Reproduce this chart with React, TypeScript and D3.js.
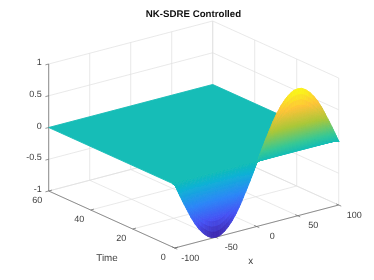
import React from "react";
import * as d3 from "d3";

const width = 374;
const height = 280;

// tick values
const xTicks = [-100, -50, 0, 50, 100];
const timeTicks = [0, 20, 40, 60];
const zTicks = [-1, -0.5, 0, 0.5, 1];

// surface: shape along x, and how it dies out with time
const xGrid = [
  -100, -95, -90, -85, -80, -75, -70, -65, -60, -55, -50, -45, -40, -35, -30, -25, -20, -15, -10, -5, 0,
  5, 10, 15, 20, 25, 30, 35, 40, 45, 50, 55, 60, 65, 70, 75, 80, 85, 90, 95, 100,
];
const profile = [
  0, -0.16, -0.31, -0.45, -0.59, -0.71, -0.81, -0.89, -0.95, -0.99, -1, -0.99, -0.95, -0.89, -0.81, -0.71, -0.59, -0.45, -0.31, -0.16, 0,
  0.16, 0.31, 0.45, 0.59, 0.71, 0.81, 0.89, 0.95, 0.99, 1, 0.99, 0.95, 0.89, 0.81, 0.71, 0.59, 0.45, 0.31, 0.16, 0,
];
const timeGrid = [0, 0.05, 0.1, 0.15, 0.2, 0.25, 0.3, 0.35, 0.4, 0.45, 0.5, 0.55, 0.6, 0.65, 0.7, 0.75, 0.8, 0.85, 0.9, 1, 60];
const amplitude = [1, 0.75, 0.64, 0.59, 0.53, 0.47, 0.41, 0.36, 0.31, 0.27, 0.23, 0.19, 0.16, 0.13, 0.1, 0.08, 0.06, 0.04, 0.02, 0, 0];

const parulaStops = ["#3e26a8", "#4752f4", "#2d87f7", "#12b1d6", "#14bdb7", "#37c897", "#abc739", "#fec338", "#f9fb15"];
const parulaAt = [0, 0.143, 0.286, 0.429, 0.5, 0.571, 0.714, 0.857, 1];

const color = d3
  .scaleLinear<string>()
  .domain(parulaAt.map((d) => d * 2 - 1))
  .range(parulaStops)
  .interpolate(d3.interpolateRgb);

// oblique projection of the 3d box, one scale per axis direction
const origin = { x: 174.7, y: 248 };
const xToPx = d3.scaleLinear().domain([-100, 100]).range([0, 164]);
const xToPy = d3.scaleLinear().domain([-100, 100]).range([0, -43]);
const tToPx = d3.scaleLinear().domain([0, 60]).range([0, -126]);
const tToPy = d3.scaleLinear().domain([0, 60]).range([0, -57]);
const zToPy = d3.scaleLinear().domain([-1, 1]).range([0, -127]);

const project = (x: number, t: number, z: number): [number, number] => [
  origin.x + xToPx(x) + tToPx(t),
  origin.y + xToPy(x) + tToPy(t) + zToPy(z),
];

const line = d3.line();
const seg = (a: [number, number, number], b: [number, number, number]) =>
  line([project(a[0], a[1], a[2]), project(b[0], b[1], b[2])]) as string;

const gridPaths: string[] = [
  ...xTicks.map((x) => seg([x, 0, -1], [x, 60, -1])),
  ...timeTicks.map((t) => seg([-100, t, -1], [100, t, -1])),
  ...xTicks.map((x) => seg([x, 60, -1], [x, 60, 1])),
  ...zTicks.map((z) => seg([-100, 60, z], [100, 60, z])),
  ...timeTicks.map((t) => seg([100, t, -1], [100, t, 1])),
  ...zTicks.map((z) => seg([100, 0, z], [100, 60, z])),
];

const axisPaths: string[] = [
  seg([-100, 0, -1], [100, 0, -1]),
  seg([-100, 0, -1], [-100, 60, -1]),
  seg([-100, 60, -1], [-100, 60, 1]),
  ...xTicks.map((x) => seg([x, 0, -1], [x, -1.2, -1])),
  ...xTicks.map((x) => seg([x, 0, -1], [x, 1.2, -1])),
  ...timeTicks.map((t) => seg([-100, t, -1], [-96, t, -1])),
  ...zTicks.map((z) => seg([-100, 60, z], [-104, 60, z])),
];

// back to front so nearer faces paint over
const faces = (() => {
  const out: { d: string; fill: string }[] = [];
  const rowSteps = 3;
  const colSteps = 3;
  for (let r = timeGrid.length - 2; r >= 0; r--) {
    // the flat part is one big face
    if (amplitude[r] === 0 && amplitude[r + 1] === 0) {
      const pts = [
        project(xGrid[0], timeGrid[r], 0),
        project(xGrid[xGrid.length - 1], timeGrid[r], 0),
        project(xGrid[xGrid.length - 1], timeGrid[r + 1], 0),
        project(xGrid[0], timeGrid[r + 1], 0),
      ];
      out.push({ d: (line(pts) as string) + "Z", fill: color(0) });
      continue;
    }
    const tAt = d3.interpolateNumber(timeGrid[r], timeGrid[r + 1]);
    const aAt = d3.interpolateNumber(amplitude[r], amplitude[r + 1]);
    for (let s = rowSteps - 1; s >= 0; s--) {
      const t0 = tAt(s / rowSteps);
      const t1 = tAt((s + 1) / rowSteps);
      const a0 = aAt(s / rowSteps);
      const a1 = aAt((s + 1) / rowSteps);
      for (let i = xGrid.length - 2; i >= 0; i--) {
        const xAt = d3.interpolateNumber(xGrid[i], xGrid[i + 1]);
        const pAt = d3.interpolateNumber(profile[i], profile[i + 1]);
        for (let c = colSteps - 1; c >= 0; c--) {
          const u0 = c / colSteps;
          const u1 = (c + 1) / colSteps;
          const pts = [
            project(xAt(u0), t0, pAt(u0) * a0),
            project(xAt(u1), t0, pAt(u1) * a0),
            project(xAt(u1), t1, pAt(u1) * a1),
            project(xAt(u0), t1, pAt(u0) * a1),
          ];
          const mean = (((pAt(u0) + pAt(u1)) / 2) * (a0 + a1)) / 2;
          out.push({ d: (line(pts) as string) + "Z", fill: color(mean) });
        }
      }
    }
  }
  return out;
})();

const fontFamily = "'Liberation Sans', Arial, sans-serif";

export default function App() {
  return (
    <svg
      width={width}
      height={height}
      style={{ position: "absolute", left: 0, top: 0, background: "#fff", textRendering: "geometricPrecision" }}
      fontFamily={fontFamily}
    >
      <defs>
        <filter id="soft" x="0" y="0" width="100%" height="100%">
          <feGaussianBlur stdDeviation={0.35} />
        </filter>
      </defs>
      <g filter="url(#soft)">
        <g fill="none" stroke="#e0e0e0" strokeWidth={0.7}>
          {gridPaths.map((d, i) => (
            <path key={i} d={d} />
          ))}
        </g>
        <g fill="none" stroke="#666666" strokeWidth={0.7}>
          {axisPaths.map((d, i) => (
            <path key={i} d={d} />
          ))}
        </g>
        <g strokeWidth={0.9}>
          {faces.map((f, i) => (
            <path key={i} d={f.d} fill={f.fill} stroke={f.fill} />
          ))}
        </g>
        <g fontSize={9} fill="#404040" textAnchor="middle">
          {xTicks.map((x) => {
            const [px, py] = project(x, 0, -1);
            return (
              <text key={x} x={px + 15.5} y={py + 12.5}>
                {x}
              </text>
            );
          })}
          {timeTicks.map((t) => {
            const [px, py] = project(-100, t, -1);
            return (
              <text key={t} x={px - 11.5} y={py + 11.5}>
                {t}
              </text>
            );
          })}
          {zTicks.map((z) => {
            const [px, py] = project(-100, 60, z);
            return (
              <text key={z} x={px - 7} y={py + 1} textAnchor="end">
                {z}
              </text>
            );
          })}
          <text x={107} y={260.5} fontSize={9.8}>
            Time
          </text>
          <text x={250.7} y={264} fontSize={9.8}>
            x
          </text>
        </g>
        <text x={193.5} y={16.5} textAnchor="middle" fontSize={9.7} fontWeight="bold" fill="#111111">
          NK-SDRE Controlled
        </text>
      </g>
    </svg>
  );
}
